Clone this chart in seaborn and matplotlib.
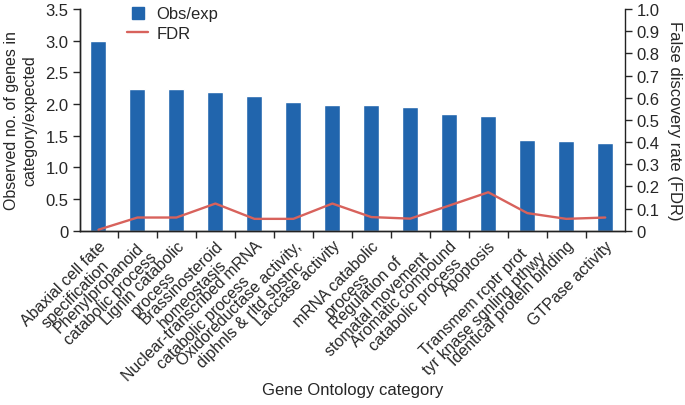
import numpy as np
import pandas as pd
import matplotlib
matplotlib.use("Agg")
import matplotlib.pyplot as plt
import seaborn as sns
from matplotlib.lines import Line2D
from matplotlib.ticker import FixedLocator, FuncFormatter

categories = [
    "Abaxial cell fate\nspecification",
    "Phenylpropanoid\ncatabolic process",
    "Lignin catabolic\nprocess",
    "Brassinosteroid\nhomeostasis",
    "Nuclear-transcribed mRNA\ncatabolic process",
    "Oxidoreductase activity,\ndiphnls & rltd sbstnc",
    "Laccase activity",
    "mRNA catabolic\nprocess",
    "Regulation of\nstomatal movement",
    "Aromatic compound\ncatabolic process",
    "Apoptosis",
    "Transmem rcptr prot\ntyr knase sgnling pthwy",
    "Identical protein binding",
    "GTPase activity",
]
obs_exp = [3.0, 2.24, 2.24, 2.19, 2.13, 2.03, 1.99, 1.99, 1.95, 1.85, 1.81, 1.44, 1.42, 1.39]
fdr = [0.005, 0.060, 0.060, 0.123, 0.054, 0.054, 0.123, 0.062, 0.055, 0.114, 0.174, 0.080, 0.054, 0.060]

bar_color = "#2165ad"
line_color = "#d8625c"

sns.set_style("ticks")
plt.rcParams["font.family"] = ["Liberation Sans", "DejaVu Sans"]
plt.rcParams["font.size"] = 11

df = pd.DataFrame({"cat": categories, "obs": obs_exp, "fdr": fdr, "pos": np.arange(len(categories))})

fig = plt.figure(figsize=(6.85, 4.06), dpi=100)
ax = fig.add_axes([0.117, 0.429, 0.795, 0.546])

# bars: observed / expected
sns.barplot(data=df, x="cat", y="obs", color=bar_color, width=0.41,
            saturation=1, ax=ax)
ax.set_ylim(0, 3.5)
ax.set_xlim(-0.47, len(categories) - 0.5)
ax.set_yticks(np.arange(0, 3.51, 0.5))
ax.yaxis.set_major_formatter(FuncFormatter(lambda v, p: "0" if v == 0 else f"{v:.1f}"))
ax.set_ylabel("Observed no. of genes in\ncategory/expected", fontsize=11.5, labelpad=6)
ax.set_xlabel("Gene Ontology category", fontsize=12)
ax.xaxis.set_label_coords(0.5, -0.68)

ax.set_xticks(df["pos"])
ax.set_xticklabels(categories, rotation=45, ha="right", rotation_mode="anchor",
                   multialignment="center", fontsize=11.5, linespacing=1.05)
ax.tick_params(axis="x", which="major", length=0, pad=5)
ax.xaxis.set_minor_locator(FixedLocator(np.arange(len(categories) - 1) + 0.5))
ax.tick_params(axis="x", which="minor", length=5, width=1, direction="out")
ax.tick_params(axis="y", length=5, width=1, direction="out", labelsize=12)

# line: FDR on right axis
ax2 = ax.twinx()
sns.lineplot(data=df, x="pos", y="fdr", color=line_color, linewidth=1.7, ax=ax2, legend=False)
ax2.set_ylim(0, 1.0)
ax2.set_yticks(np.arange(0, 1.01, 0.1))
ax2.yaxis.set_major_formatter(FuncFormatter(lambda v, p: "0" if v == 0 else f"{v:.1f}"))
ax2.set_ylabel("False discovery rate (FDR)", fontsize=12, rotation=270, labelpad=16)
ax2.set_xlabel("")
ax2.tick_params(axis="y", length=5, width=1, direction="out", labelsize=12)

for a in (ax, ax2):
    a.spines["top"].set_visible(False)
    for s in a.spines.values():
        s.set_linewidth(1)
        s.set_color("#222222")
ax.spines["right"].set_visible(False)

handles = [
    Line2D([], [], linestyle="none", marker="s", markersize=9,
           markerfacecolor=bar_color, markeredgecolor=bar_color),
    Line2D([], [], color=line_color, linewidth=1.7),
]
ax2.legend(handles, ["Obs/exp", "FDR"], loc="upper left", bbox_to_anchor=(0.058, 1.08),
           frameon=False, fontsize=12, handlelength=1.3, handletextpad=0.5,
           labelspacing=0.25)

fig.savefig("out.png", dpi=100)
